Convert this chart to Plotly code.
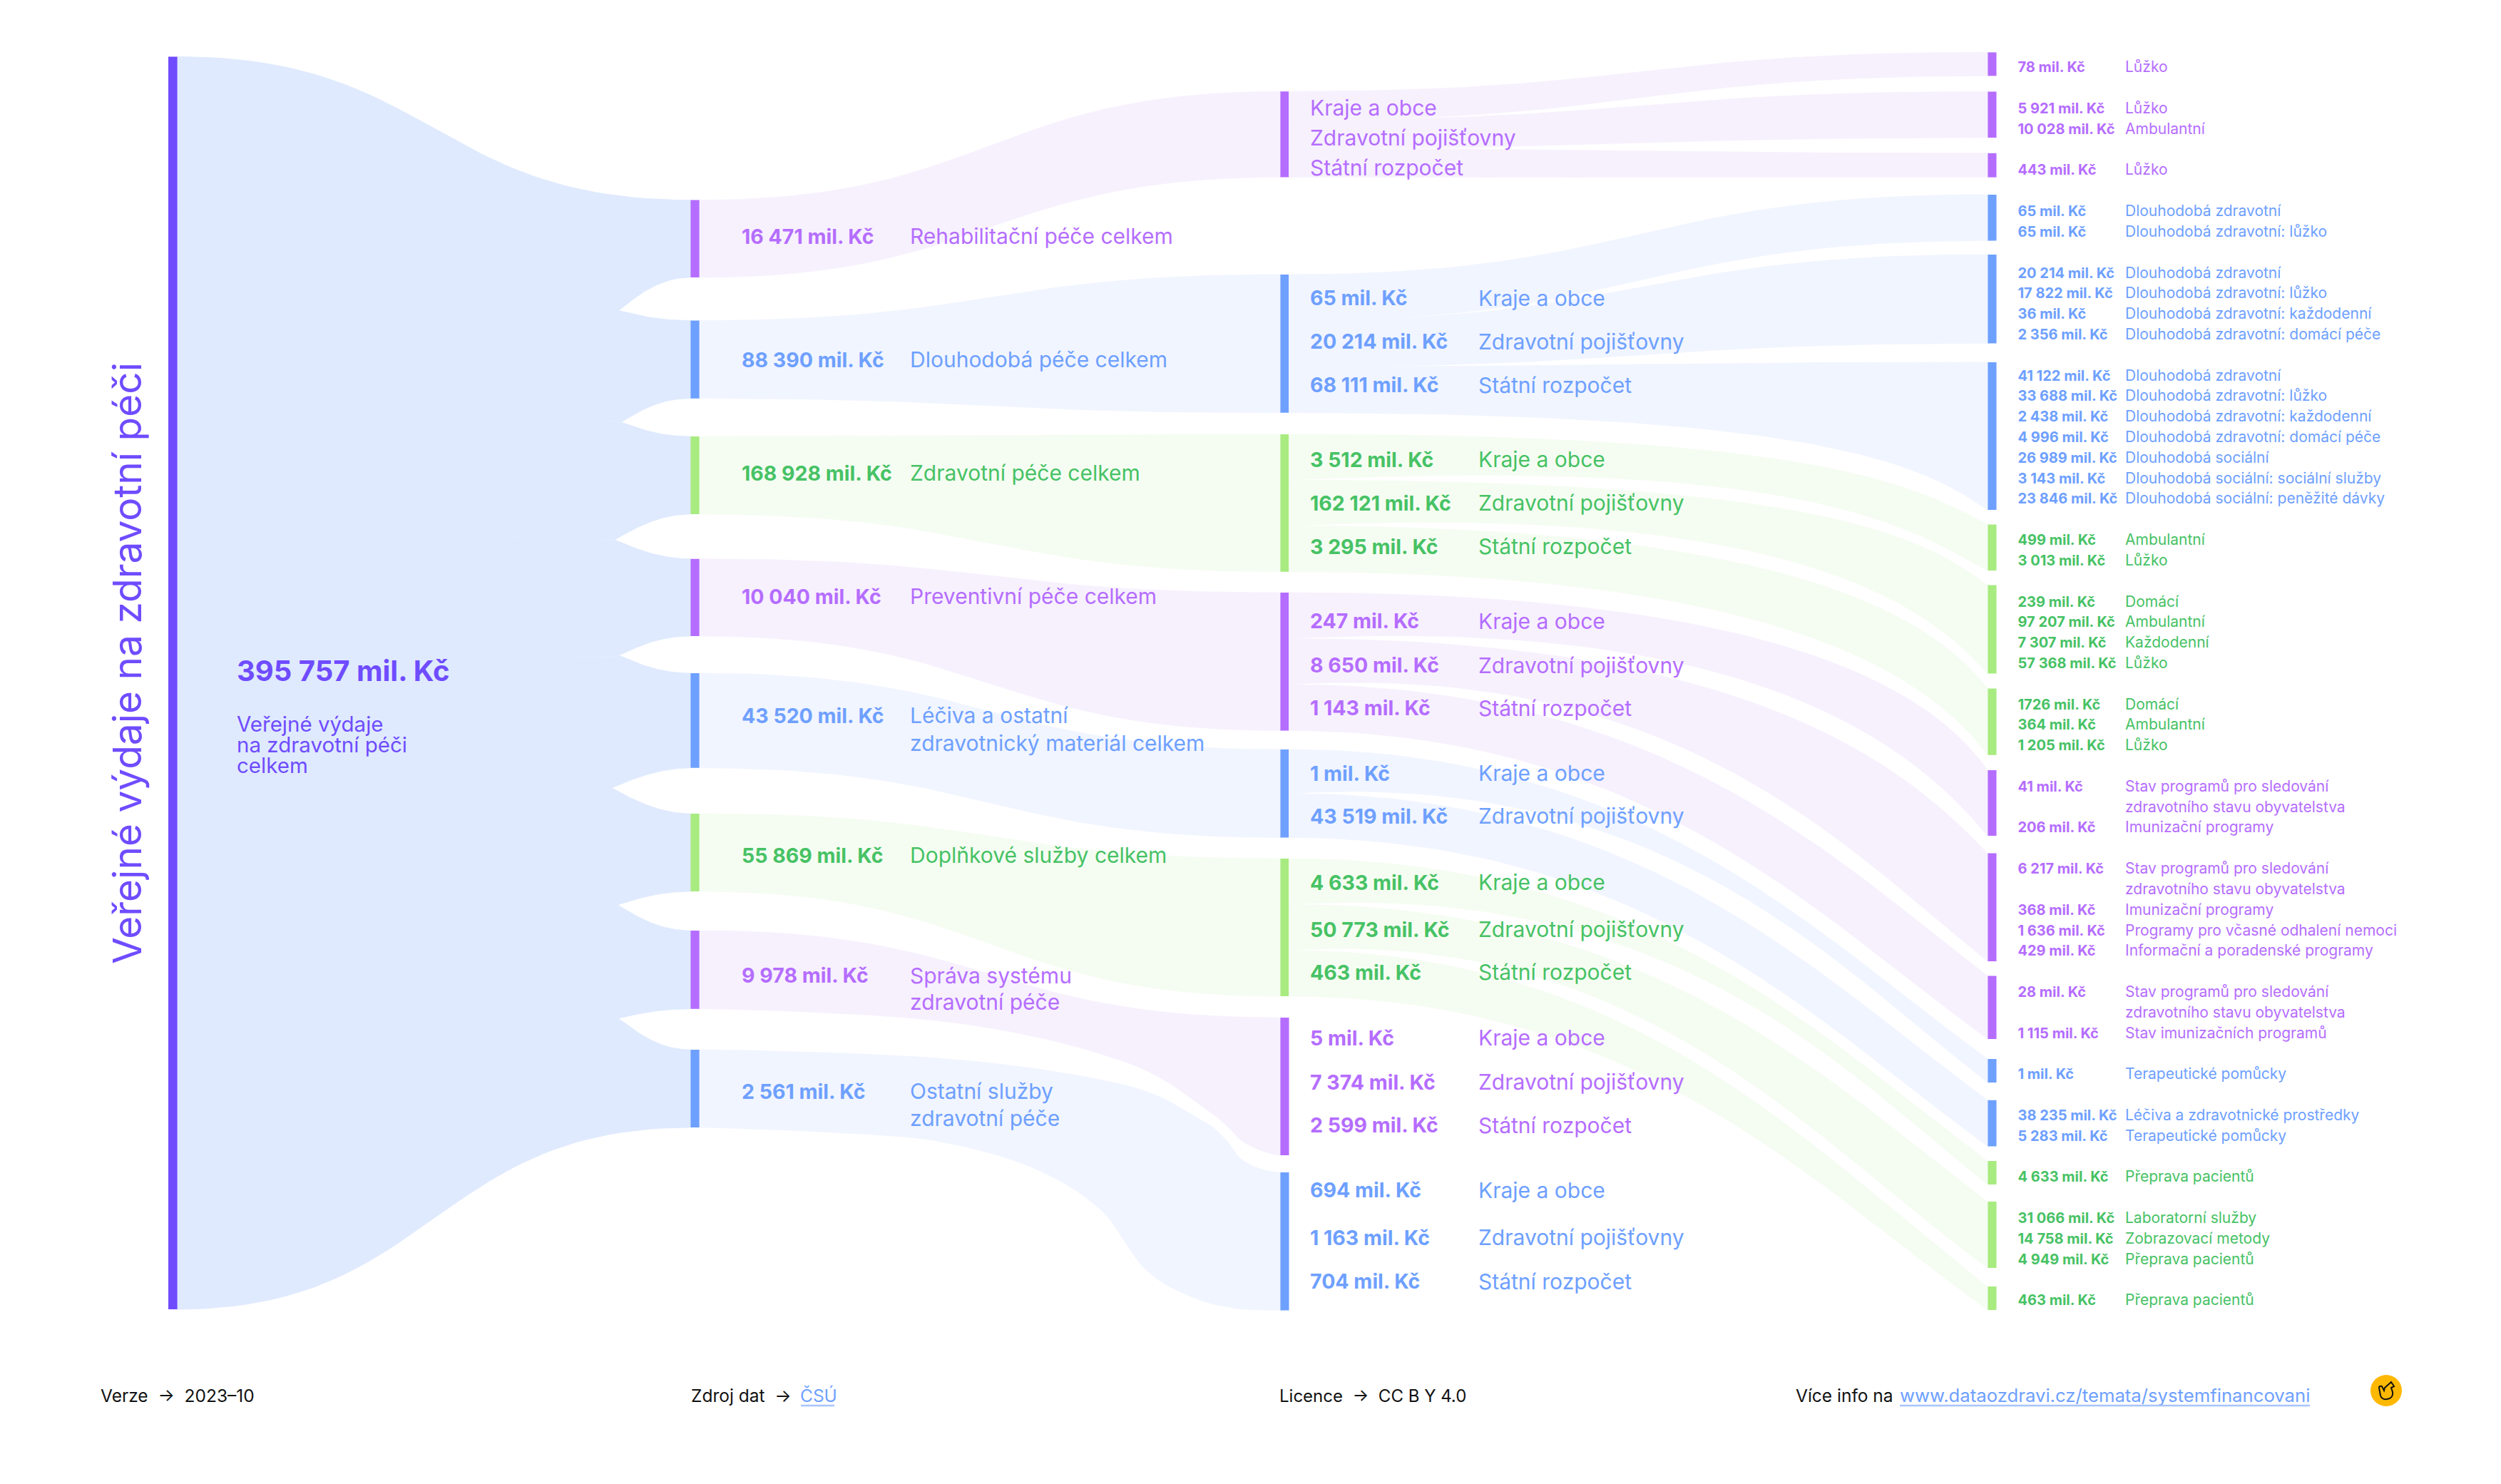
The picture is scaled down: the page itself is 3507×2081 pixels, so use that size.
import numpy as np
import plotly.graph_objects as go

# ---------- content ----------
title = "Veřejné výdaje na zdravotní péči"
total_value = "395 757 mil. Kč"
total_label = ["Veřejné výdaje", "na zdravotní péči", "celkem"]

cat_values = ["16 471 mil. Kč", "88 390 mil. Kč", "168 928 mil. Kč", "10 040 mil. Kč",
              "43 520 mil. Kč", "55 869 mil. Kč", "9 978 mil. Kč", "2 561 mil. Kč"]
cat_labels = [["Rehabilitační péče celkem"], ["Dlouhodobá péče celkem"], ["Zdravotní péče celkem"],
              ["Preventivní péče celkem"], ["Léčiva a ostatní", "zdravotnický materiál celkem"],
              ["Doplňkové služby celkem"], ["Správa systému", "zdravotní péče"],
              ["Ostatní služby", "zdravotní péče"]]
payers3 = ["Kraje a obce", "Zdravotní pojišťovny", "Státní rozpočet"]
payer_values = [["", "", ""],
                ["65 mil. Kč", "20 214 mil. Kč", "68 111 mil. Kč"],
                ["3 512 mil. Kč", "162 121 mil. Kč", "3 295 mil. Kč"],
                ["247 mil. Kč", "8 650 mil. Kč", "1 143 mil. Kč"],
                ["1 mil. Kč", "43 519 mil. Kč"],
                ["4 633 mil. Kč", "50 773 mil. Kč", "463 mil. Kč"],
                ["5 mil. Kč", "7 374 mil. Kč", "2 599 mil. Kč"],
                ["694 mil. Kč", "1 163 mil. Kč", "704 mil. Kč"]]
detail_rows = [
    [("78 mil. Kč", "Lůžko")],
    [("5 921 mil. Kč", "Lůžko"), ("10 028 mil. Kč", "Ambulantní")],
    [("443 mil. Kč", "Lůžko")],
    [("65 mil. Kč", "Dlouhodobá zdravotní"), ("65 mil. Kč", "Dlouhodobá zdravotní: lůžko")],
    [("20 214 mil. Kč", "Dlouhodobá zdravotní"), ("17 822 mil. Kč", "Dlouhodobá zdravotní: lůžko"),
     ("36 mil. Kč", "Dlouhodobá zdravotní: každodenní"), ("2 356 mil. Kč", "Dlouhodobá zdravotní: domácí péče")],
    [("41 122 mil. Kč", "Dlouhodobá zdravotní"), ("33 688 mil. Kč", "Dlouhodobá zdravotní: lůžko"),
     ("2 438 mil. Kč", "Dlouhodobá zdravotní: každodenní"), ("4 996 mil. Kč", "Dlouhodobá zdravotní: domácí péče"),
     ("26 989 mil. Kč", "Dlouhodobá sociální"), ("3 143 mil. Kč", "Dlouhodobá sociální: sociální služby"),
     ("23 846 mil. Kč", "Dlouhodobá sociální: peněžité dávky")],
    [("499 mil. Kč", "Ambulantní"), ("3 013 mil. Kč", "Lůžko")],
    [("239 mil. Kč", "Domácí"), ("97 207 mil. Kč", "Ambulantní"), ("7 307 mil. Kč", "Každodenní"), ("57 368 mil. Kč", "Lůžko")],
    [("1726 mil. Kč", "Domácí"), ("364 mil. Kč", "Ambulantní"), ("1 205 mil. Kč", "Lůžko")],
    [("41 mil. Kč", "Stav programů pro sledování"), ("", "zdravotního stavu obyvatelstva"), ("206 mil. Kč", "Imunizační programy")],
    [("6 217 mil. Kč", "Stav programů pro sledování"), ("", "zdravotního stavu obyvatelstva"), ("368 mil. Kč", "Imunizační programy"),
     ("1 636 mil. Kč", "Programy pro včasné odhalení nemoci"), ("429 mil. Kč", "Informační a poradenské programy")],
    [("28 mil. Kč", "Stav programů pro sledování"), ("", "zdravotního stavu obyvatelstva"), ("1 115 mil. Kč", "Stav imunizačních programů")],
    [("1 mil. Kč", "Terapeutické pomůcky")],
    [("38 235 mil. Kč", "Léčiva a zdravotnické prostředky"), ("5 283 mil. Kč", "Terapeutické pomůcky")],
    [("4 633 mil. Kč", "Přeprava pacientů")],
    [("31 066 mil. Kč", "Laboratorní služby"), ("14 758 mil. Kč", "Zobrazovací metody"), ("4 949 mil. Kč", "Přeprava pacientů")],
    [("463 mil. Kč", "Přeprava pacientů")],
]

# ---------- style ----------
FONT = "Inter"
VIOLET, BIG = "#6F4CFF", "#DFEAFE"
BAR = {"p": "#B56DFF", "b": "#6EA0FF", "g": "#A8EB80"}
TXT = {"p": "#B56DFF", "b": "#6EA0FF", "g": "#47C265"}
FLOW = {"p": "#F7F1FE", "b": "#F1F5FF", "g": "#F5FDF2"}
cat_kind = ["p", "b", "g", "p", "b", "g", "p", "b"]
det_kind = ["p"] * 3 + ["b"] * 3 + ["g"] * 3 + ["p"] * 3 + ["b"] * 2 + ["g"] * 3

# ---------- layout of the schematic (pixels of the 3507x2081 page) ----------
X0 = (236, 249); X1 = (968, 981); X2 = (1795, 1807.5); X3 = (2787, 2799.5)
root_span = (79.5, 1836)
cat_span = [(280.6, 389), (449.5, 558.7), (612, 721), (783.7, 892), (944, 1076.8), (1141, 1250), (1305, 1414.7), (1472, 1581)]
tips = [(867, 436), (871, 592), (862, 757), (868, 919), (858, 1105), (866, 1269), (867, 1428)]
group_span = [(128.3, 248.4), (385, 578.8), (609, 801.7), (831, 1024.4), (1051, 1174.4), (1204, 1397), (1427, 1620), (1644, 1837.5)]
det_span = [(73.4, 106.4), (128.5, 193), (214.8, 248.6), (272.9, 337.5), (357, 481.5), (508, 715), (735.6, 800),
            (820.6, 944.6), (965.4, 1058.7), (1080, 1172), (1196.6, 1348), (1368.6, 1457), (1485, 1518),
            (1542.7, 1607.4), (1628, 1661), (1685, 1778), (1804, 1837)]
cat_y = [[332], [505], [664], [837], [1004, 1043], [1200], [1368.6, 1406], [1531, 1569]]
group_y = [[151.5, 194, 236], [418.5, 479.6, 540.8], [645, 706, 767], [871.7, 933.7, 993.8],
           [1085, 1145], [1238, 1304, 1364], [1456, 1518, 1578.6], [1669.6, 1736, 1797.5]]
det_y = [[93.4], [151, 180], [237], [295, 324], [382, 410, 439, 468], [526, 554, 583, 612, 641, 670, 698],
         [756, 785], [843, 871, 900, 929], [987, 1015, 1044], [1102, 1131, 1159], [1217, 1246, 1275, 1304, 1332],
         [1390, 1419.5, 1448.5], [1505], [1563, 1592], [1649], [1707, 1736, 1765], [1822]]
# hand-read guide points for the edges that do not follow a simple curve
n7_bottom_via = [(1330, 1433), (1575, 1488), (1697, 1559.5), (1746, 1603)]
n8_top_via = [(1330, 1485), (1575, 1521), (1680, 1568), (1716, 1595), (1740, 1625), (1770, 1640)]
n8_bottom_via = [(1207, 1590), (1330, 1603), (1452, 1639), (1544, 1697), (1605, 1779), (1667, 1817), (1728, 1834)]
TEXT_DY = 2.5
HUMP = 34


def cubic(p0, p1, p2, p3, n=50):
    out = []
    for i in range(n + 1):
        t = i / n
        u = 1 - t
        out.append((u*u*u*p0[0] + 3*u*u*t*p1[0] + 3*u*t*t*p2[0] + t*t*t*p3[0],
                    u*u*u*p0[1] + 3*u*u*t*p1[1] + 3*u*t*t*p2[1] + t*t*t*p3[1]))
    return out


def edge(x0, y0, x1, y1, a=.5, b=.5, m=0.0, hump=0.0):
    dx, dy = x1 - x0, y1 - y0
    return cubic((x0, y0), (x0 + a*dx, y0 - hump), (x1 - b*dx, y1 - m*dy), (x1, y1))


def smooth(pts, n=14):
    """Catmull-Rom through pts with flat ends."""
    out = []
    k = len(pts)
    for i in range(k - 1):
        p0, p1, p2, p3 = pts[max(i-1, 0)], pts[i], pts[i+1], pts[min(i+2, k-1)]
        c1 = (p1[0] + (p2[0]-p0[0])/6, p1[1] + (p2[1]-p0[1])/6 if i else p1[1])
        c2 = (p2[0] - (p3[0]-p1[0])/6, p2[1] - (p3[1]-p1[1])/6 if i < k-2 else p2[1])
        out += cubic(p1, c1, c2, p2, n)
    return out


def auto_edge(x0, y0, x1, y1, hump=0.0):
    dy = y1 - y0
    knots = [0, 40, 130, 250, 440]
    a = float(np.interp(dy, knots, [.5, .5, .75, .7, .5]))
    b = float(np.interp(dy, knots, [.5, .5, .1, .08, .25]))
    m = float(np.interp(dy, knots, [0, 0, .5, .45, .4]))
    h = hump * float(np.interp(dy, [40, 120], [0, 1]))
    return edge(x0, y0, x1, y1, a=a, b=b, m=m, hump=h)


def poly(pts, color):
    xs, ys = zip(*pts)
    return go.Scatter(x=list(xs) + [xs[0]], y=list(ys) + [ys[0]], mode="lines", fill="toself",
                      fillcolor=color, line=dict(color=color, width=0.8), hoverinfo="skip", showlegend=False)


fig = go.Figure()

# --- node bars ---
def bars(x, spans, colors):
    fig.add_trace(go.Bar(x=[(x[0]+x[1])/2]*len(spans), y=[s[1]-s[0] for s in spans], base=[s[0] for s in spans],
                         width=[x[1]-x[0]]*len(spans), marker=dict(color=colors, line=dict(width=0)),
                         hoverinfo="skip", showlegend=False))

bars(X0, [root_span], [VIOLET])
bars(X1, cat_span, [BAR[k] for k in cat_kind])
bars(X2, group_span, [BAR[k] for k in cat_kind])
bars(X3, det_span, [BAR[k] for k in det_kind])

# --- root -> categories ---
step = (root_span[1] - root_span[0]) / 8
for i, (top, bot) in enumerate(cat_span):
    s0, s1 = root_span[0] + i*step, root_span[0] + (i+1)*step
    pts = []
    if i == 0:
        pts += edge(X0[1], s0, X1[0], top)
    else:
        tx, ty = tips[i-1]
        slope = (ty - top) / (X1[0] - tx) * 1.7
        pts.append((X0[1], s0))
        pts += cubic((tx, ty), (tx + 25, ty - slope*25), (X1[0] - 45, top), (X1[0], top))
    if i == 7:
        pts += edge(X1[0], bot, X0[1], s1)
    else:
        tx, ty = tips[i]
        slope = (ty - bot) / (X1[0] - tx) * 1.7
        pts += cubic((X1[0], bot), (X1[0] - 45, bot), (tx + 25, ty - slope*25), (tx, ty))
        pts.append((X0[1], s1))
    fig.add_trace(poly(pts, BIG))

# --- categories -> payer groups ---
for i, ((ct, cb), (gt, gb), k) in enumerate(zip(cat_span, group_span, cat_kind)):
    top = edge(X1[1], ct, X2[0], gt)
    bottom = edge(X1[1], cb, X2[0], gb)
    if i == 6:
        bottom = smooth([(X1[1], cb)] + n7_bottom_via + [(X2[0], gb)])
    if i == 7:
        top = smooth([(X1[1], ct)] + n8_top_via + [(X2[0], gt)])
        bottom = smooth([(X1[1], cb)] + n8_bottom_via + [(X2[0], gb)])
    fig.add_trace(poly(top + bottom[::-1], FLOW[k]))

# --- payer bands -> detail nodes ---
d = 0
for g in range(6):
    gt, gb = group_span[g]
    n = len(payer_values[g])
    for j in range(n):
        st, sb = gt + j*(gb-gt)/n, gt + (j+1)*(gb-gt)/n
        dt, db = det_span[d]
        top = auto_edge(X2[1], st, X3[0], dt)
        bottom = auto_edge(X2[1], sb, X3[0], db, hump=HUMP if j < n - 1 else 0.0)
        fig.add_trace(poly(top + bottom[::-1], FLOW[cat_kind[g]]))
        d += 1


# --- text ---
def text(xs, ys, labels, color, size, bold=False):
    fig.add_trace(go.Scatter(x=xs, y=[y + TEXT_DY for y in ys], text=[f"<b>{t}</b>" if bold else t for t in labels],
                             mode="text", textposition="middle right", cliponaxis=False,
                             textfont=dict(family=FONT, size=size, color=color),
                             hoverinfo="skip", showlegend=False))

text([332], [942], [total_value], VIOLET, 40, True)
text([332]*3, [1016, 1045, 1074], total_label, VIOLET, 29.5)

for i, k in enumerate(cat_kind):
    text([1040], [cat_y[i][0]], [cat_values[i]], TXT[k], 28.5, True)
    text([1276]*len(cat_labels[i]), cat_y[i], cat_labels[i], TXT[k], 30)

for g, k in enumerate(cat_kind):
    vals = payer_values[g]
    lx = 1837 if g == 0 else 2073
    names = payers3 if len(vals) == 3 else payers3[:2]
    if g:
        text([1837]*len(vals), group_y[g], vals, TXT[k], 28.5, True)
    text([lx]*len(vals), group_y[g], names, TXT[k], 30)

for i, rows in enumerate(detail_rows):
    k = det_kind[i]
    vx = [(y, r[0]) for y, r in zip(det_y[i], rows) if r[0]]
    text([2829.5]*len(vx), [v[0] for v in vx], [v[1] for v in vx], TXT[k], 20, True)
    text([2980]*len(rows), det_y[i], [r[1] for r in rows], TXT[k], 21)

# footer
BLACK = "#111111"
text([141], [1957], ["Verze  →  2023–10"], BLACK, 24.5)
text([969], [1957], ["Zdroj dat  →"], BLACK, 24.5)
text([1122], [1957], ["ČSÚ"], "#6EA0FF", 24.5)
text([1794], [1957], ["Licence  →  CC B Y 4.0"], BLACK, 24)
text([2518], [1957], ["Více info na"], BLACK, 24.5)
text([2664], [1957], ["www.dataozdravi.cz/temata/systemfinancovani"], "#6EA0FF", 25.7)

fig.update_layout(
    width=3507, height=2081, margin=dict(l=0, r=0, t=0, b=0),
    paper_bgcolor="white", plot_bgcolor="white", barmode="overlay", showlegend=False,
    xaxis=dict(range=[0, 3507], visible=False, fixedrange=True),
    yaxis=dict(range=[2081, 0], visible=False, fixedrange=True),
    annotations=[dict(x=178, y=930, xref="x", yref="y", text=title, textangle=-90, showarrow=False,
                      font=dict(family=FONT, size=55, color=VIOLET))],
    shapes=[
        dict(type="line", xref="x", yref="y", x0=1123, x1=1170, y0=1971, y1=1971, line=dict(color="#A8C4FF", width=2.5)),
        dict(type="line", xref="x", yref="y", x0=2664, x1=3239, y0=1971, y1=1971, line=dict(color="#A8C4FF", width=2.5)),
        dict(type="circle", xref="x", yref="y", x0=3324, x1=3368, y0=1928, y1=1972, fillcolor="#FFB800", line=dict(width=0)),
        dict(type="path", xref="x", yref="y", line=dict(color="#111111", width=2),
             path="M 3336 1946 L 3338 1957 Q 3340 1963 3347 1962 L 3351 1961 Q 3356 1958 3355 1952 L 3353 1946 "
                  "L 3357 1944 L 3353 1938 L 3344 1946 L 3343 1950 L 3340 1944 Q 3336 1943 3336 1946 Z"),
    ],
)
fig.write_html("out.html", post_script='document.body.style.margin="0";', config={"displayModeBar": False})
